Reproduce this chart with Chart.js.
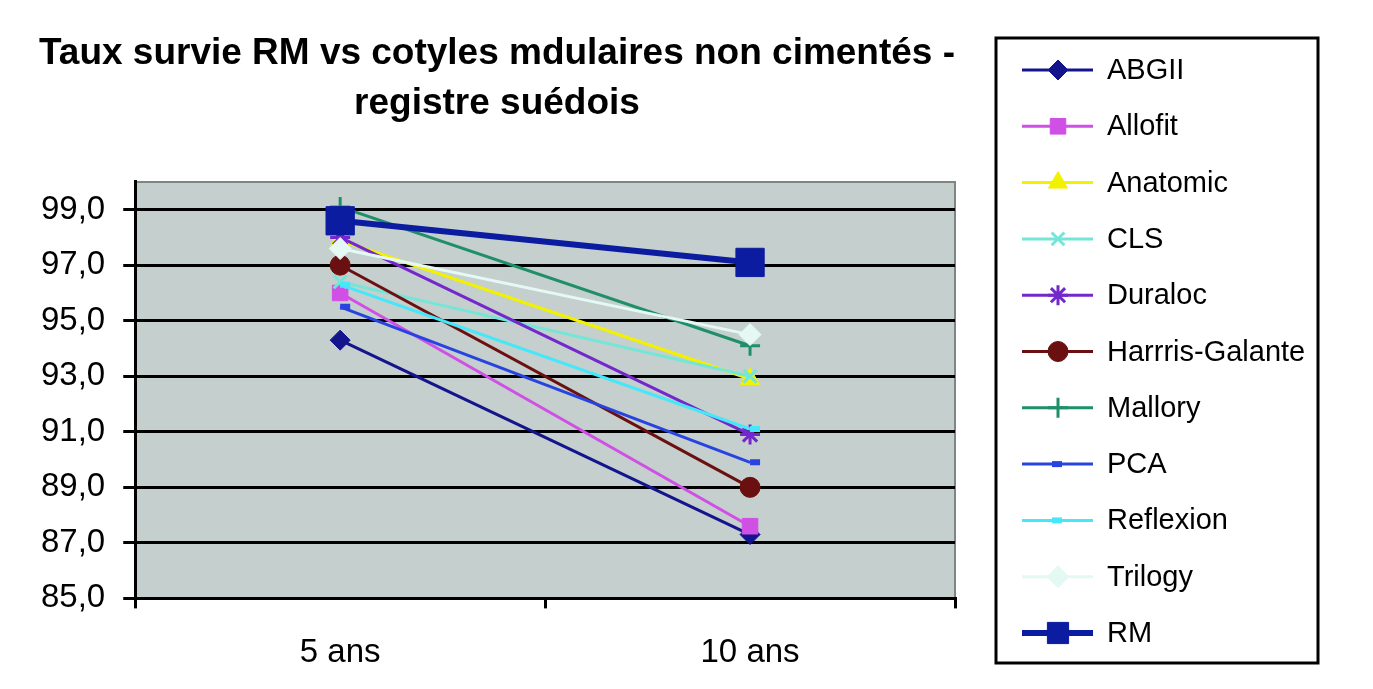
<!DOCTYPE html>
<html>
<head>
<meta charset="utf-8">
<script src="https://cdn.jsdelivr.net/npm/chart.js@4.4.0/dist/chart.umd.min.js"></script>
<style>
  html, body { margin: 0; padding: 0; background: #fff; }
  #wrap { width: 1373px; height: 689px; position: relative; }
</style>
</head>
<body>
<div id="wrap"><canvas id="survieChart"></canvas></div>
<script>
// données
const categories = ['5 ans', '10 ans'];
const seriesNames = ['ABGII', 'Allofit', 'Anatomic', 'CLS', 'Duraloc', 'Harrris-Galante', 'Mallory', 'PCA', 'Reflexion', 'Trilogy', 'RM'];
const abgii = [94.3, 87.3];
const allofit = [96.0, 87.6];
const anatomic = [97.9, 92.9];
const cls = [96.4, 93.0];
const duraloc = [98.0, 90.9];
const harris = [97.0, 89.0];
const mallory = [99.1, 94.1];
const pca = [95.5, 89.9];
const reflexion = [96.3, 91.1];
const trilogy = [97.6, 94.5];
const rm = [98.6, 97.1];
const yTicks = [85, 87, 89, 91, 93, 95, 97, 99];

const FONT = '"Liberation Sans", Arial, sans-serif';

// style de chaque série : couleur, marqueur
const styles = [
    { color: '#14148c', point: 'rectRot', r: 10, bw: 1, w: 3 },
    { color: '#d050e6', point: 'rect', r: 11, bw: 1, w: 3 },
    { color: '#f2f200', point: 'triangle', r: 11, bw: 1, w: 3 },
    { color: '#74e6d8', point: 'crossRot', r: 9, bw: 3, w: 3 },
    { color: '#7428cc', point: 'star', r: 10, bw: 3, w: 3 },
    { color: '#6b1010', point: 'circle', r: 10, bw: 1, w: 3 },
    { color: '#1f8f68', point: 'cross', r: 10, bw: 3, w: 3 },
    { color: '#2844e0', point: 'dash', r: 10, bw: 6, w: 3 },
    { color: '#44e8f8', point: 'dash', r: 10, bw: 6, w: 3 },
    { color: '#e4f8f4', point: 'rectRot', r: 11, bw: 1, w: 3 },
    { color: '#0b1ca0', point: 'rect', r: 20, bw: 1, w: 6 }
];
const allData = [abgii, allofit, anatomic, cls, duraloc, harris, mallory, pca, reflexion, trilogy, rm];

const datasets = allData.map((vals, i) => ({
    label: seriesNames[i],
    data: vals,
    borderColor: styles[i].color,
    backgroundColor: styles[i].color,
    borderWidth: styles[i].w,
    pointStyle: styles[i].point,
    pointRadius: styles[i].r,
    pointBorderWidth: styles[i].bw,
    pointBackgroundColor: styles[i].color,
    pointBorderColor: styles[i].color,
    tension: 0,
    order: -i // RM dessiné au-dessus
}));

// fond gris + cadre haut/droite
const plotBg = {
    id: 'plotBg',
    beforeDraw(chart) {
        const { ctx, chartArea: a } = chart;
        ctx.save();
        ctx.fillStyle = '#c5cfcd';
        ctx.fillRect(a.left, a.top, a.right - a.left, a.bottom - a.top);
        ctx.strokeStyle = '#7e8684';
        ctx.lineWidth = 2;
        ctx.beginPath();
        ctx.moveTo(a.left, a.top);
        ctx.lineTo(a.right, a.top);
        ctx.lineTo(a.right, a.bottom);
        ctx.stroke();
        ctx.restore();
    }
};

// légende encadrée à droite
const boxLegend = {
    id: 'boxLegend',
    afterDraw(chart) {
        const ctx = chart.ctx;
        ctx.save();
        ctx.strokeStyle = '#000';
        ctx.lineWidth = 3;
        ctx.strokeRect(996, 38, 322, 625);
        ctx.font = '29px ' + FONT;
        ctx.textBaseline = 'middle';
        ctx.fillStyle = '#000';
        chart.data.datasets.forEach((ds, i) => {
            const y = 70 + i * 56.3;
            ctx.strokeStyle = ds.borderColor;
            ctx.lineWidth = ds.borderWidth;
            ctx.beginPath();
            ctx.moveTo(1022, y);
            ctx.lineTo(1093, y);
            ctx.stroke();
            ctx.fillStyle = ds.pointBackgroundColor;
            ctx.strokeStyle = ds.pointBorderColor;
            ctx.lineWidth = ds.pointBorderWidth;
            Chart.helpers.drawPoint(ctx, {
                pointStyle: ds.pointStyle,
                radius: i === 10 ? 15 : ds.pointRadius,
                rotation: 0,
                borderWidth: ds.pointBorderWidth
            }, ds.pointStyle === 'dash' ? 1052 : 1058, y);
            ctx.fillStyle = '#000';
            ctx.fillText(ds.label, 1107, y + 1);
        });
        ctx.restore();
    }
};

const ctx = document.getElementById('survieChart').getContext('2d');
new Chart(ctx, {
    type: 'line',
    data: { labels: categories, datasets: datasets },
    plugins: [plotBg, boxLegend],
    options: {
        responsive: true,
        maintainAspectRatio: false,
        animation: false,
        devicePixelRatio: 1,
        layout: { padding: { left: 39, right: 418, top: 0, bottom: -9 } },
        scales: {
            x: {
                offset: true,
                grid: {
                    offset: true,
                    drawOnChartArea: false,
                    drawTicks: true,
                    tickLength: 10,
                    color: '#000',
                    lineWidth: 3
                },
                border: { display: true, color: '#000', width: 3 },
                ticks: { color: '#000', font: { family: FONT, size: 33 }, padding: 25 }
            },
            y: {
                min: 85,
                max: 100,
                afterBuildTicks: (scale) => { scale.ticks = yTicks.map(v => ({ value: v })); },
                // titre centré comme l'original : on rogne la largeur de l'axe
                afterFit: (scale) => { scale.width -= 16; },
                grid: { color: '#000', lineWidth: 3, tickLength: 12 },
                border: { display: true, color: '#000', width: 3 },
                ticks: {
                    color: '#000',
                    font: { family: FONT, size: 33 },
                    padding: 18,
                    callback: (v) => v.toFixed(1).replace('.', ',')
                }
            }
        },
        plugins: {
            legend: { display: false },
            tooltip: { enabled: false },
            title: {
                display: true,
                text: ['Taux survie RM vs cotyles mdulaires non cimentés -', 'registre suédois'],
                color: '#000',
                font: { family: FONT, size: 37, weight: 'bold', lineHeight: 1.35 },
                padding: { top: 29, bottom: 53 }
            }
        }
    }
});
</script>
</body>
</html>
